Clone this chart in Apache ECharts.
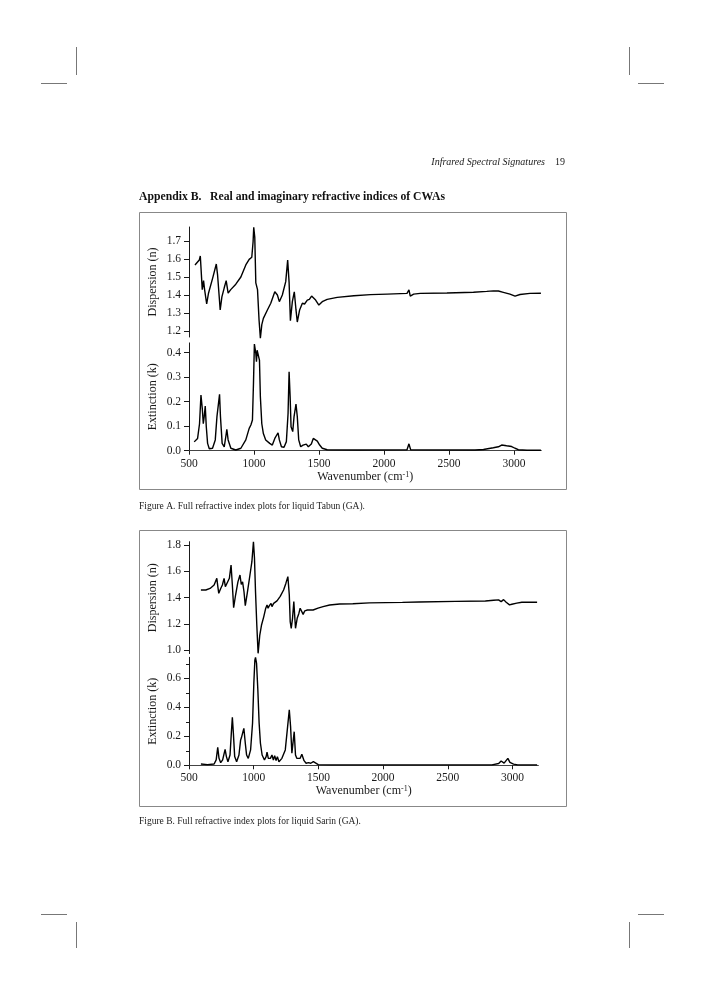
<!DOCTYPE html>
<html><head><meta charset="utf-8">
<script src="https://cdn.jsdelivr.net/npm/echarts@6/dist/echarts.min.js"></script>
<style>html,body{margin:0;padding:0;background:#fff}#c{width:706px;height:1000px}</style>
</head><body><div id="c"></div>
<script>
// ---------- tick labels ----------
const xTicks = [500, 1000, 1500, 2000, 2500, 3000];
const dispATicks = [1.2, 1.3, 1.4, 1.5, 1.6, 1.7];
const extATicks = [0.0, 0.1, 0.2, 0.3, 0.4];
const dispBTicks = [1.0, 1.2, 1.4, 1.6, 1.8];
const extBTicks = [0.0, 0.2, 0.4, 0.6];
const extBMinorTicks = [0.1, 0.3, 0.5, 0.7];

// ---------- Figure A: Tabun ----------
const dispA_w = [546,561,579,587,602,612,620,636,650,682,710,720,727,740,753,771,786,801,821,860,899,937,963,983,993,998,1006,1014,1027,1039,1049,1060,1072,1083,1103,1129,1160,1180,1195,1218,1244,1259,1270,1280,1295,1310,1323,1333,1351,1372,1389,1410,1426,1443,1456,1474,1499,1525,1563,1640,1768,1896,2024,2177,2186,2192,2202,2228,2279,2484,2688,2790,2841,2880,2918,2969,3008,3046,3123,3207];
const dispA_n = [1.567,1.557,1.594,1.617,1.43,1.48,1.43,1.35,1.41,1.494,1.572,1.51,1.52,1.317,1.39,1.44,1.48,1.41,1.43,1.46,1.50,1.567,1.598,1.61,1.696,1.776,1.72,1.467,1.43,1.26,1.16,1.235,1.27,1.26,1.317,1.354,1.418,1.40,1.363,1.40,1.474,1.594,1.47,1.257,1.363,1.418,1.317,1.25,1.317,1.354,1.35,1.372,1.376,1.394,1.387,1.372,1.344,1.363,1.376,1.387,1.396,1.402,1.405,1.409,1.412,1.428,1.394,1.405,1.409,1.411,1.415,1.42,1.423,1.422,1.415,1.405,1.394,1.403,1.409,1.41];

const extA_w = [540,566,581,592,602,610,617,625,633,643,656,681,702,715,722,735,742,755,771,783,791,801,822,860,899,937,963,976,988,996,1003,1014,1019,1024,1034,1042,1049,1060,1072,1090,1103,1121,1141,1160,1175,1185,1195,1211,1231,1249,1262,1270,1278,1285,1298,1308,1323,1333,1344,1359,1377,1392,1402,1418,1441,1456,1469,1487,1505,1525,1563,1800,2177,2192,2205,2700,2765,2841,2880,2905,2943,2982,3008,3033,3100,3207];
const extA_k = [0.036,0.05,0.11,0.227,0.173,0.11,0.139,0.182,0.098,0.03,0.008,0.01,0.044,0.139,0.146,0.23,0.139,0.03,0.016,0.057,0.087,0.044,0.01,0.003,0.01,0.044,0.091,0.105,0.125,0.275,0.435,0.397,0.363,0.41,0.404,0.37,0.22,0.11,0.07,0.044,0.046,0.03,0.023,0.05,0.064,0.073,0.044,0.016,0.014,0.037,0.152,0.322,0.22,0.098,0.078,0.139,0.19,0.139,0.044,0.016,0.023,0.019,0.027,0.016,0.027,0.05,0.044,0.039,0.023,0.01,0.004,0.003,0.004,0.028,0.004,0.003,0.005,0.012,0.016,0.023,0.02,0.017,0.01,0.004,0.002,0.002];

// ---------- Figure B: Sarin ----------
const dispB_w = [592,630,663,694,715,722,730,745,758,771,781,796,812,825,835,845,860,878,894,904,914,925,935,950,971,986,998,1006,1014,1024,1034,1047,1060,1078,1093,1103,1111,1121,1134,1141,1154,1167,1180,1205,1231,1249,1264,1275,1282,1290,1300,1310,1318,1323,1336,1349,1359,1369,1382,1395,1415,1439,1459,1472,1497,1536,1587,1664,1766,1894,2021,2149,2277,2560,2790,2854,2892,2912,2931,2951,2963,2977,2995,3033,3072,3190];
const dispB_n = [1.458,1.458,1.47,1.496,1.547,1.49,1.433,1.47,1.496,1.547,1.483,1.483,1.547,1.648,1.496,1.324,1.42,1.52,1.572,1.50,1.52,1.445,1.339,1.433,1.572,1.673,1.825,1.70,1.445,1.19,0.977,1.116,1.19,1.256,1.32,1.344,1.32,1.339,1.357,1.332,1.357,1.344,1.375,1.41,1.458,1.51,1.56,1.42,1.218,1.167,1.243,1.37,1.243,1.167,1.243,1.28,1.32,1.33,1.273,1.30,1.306,1.306,1.306,1.30,1.32,1.332,1.344,1.352,1.354,1.36,1.362,1.364,1.367,1.372,1.375,1.38,1.383,1.37,1.385,1.365,1.378,1.345,1.35,1.358,1.365,1.365];

const extB_w = [592,643,694,710,722,732,745,760,779,789,801,817,827,835,843,853,868,886,899,906,917,924,935,945,958,976,991,1001,1009,1014,1022,1032,1042,1052,1065,1083,1096,1103,1113,1129,1141,1152,1162,1173,1183,1195,1218,1244,1262,1275,1285,1295,1303,1313,1323,1333,1346,1359,1372,1382,1389,1405,1423,1441,1461,1474,1499,1600,2841,2893,2912,2935,2964,2980,3008,3040,3190];
const extB_k = [0.009,0.005,0.009,0.037,0.124,0.048,0.018,0.037,0.11,0.06,0.025,0.071,0.22,0.331,0.22,0.06,0.025,0.071,0.175,0.193,0.232,0.255,0.152,0.071,0.048,0.106,0.29,0.566,0.726,0.745,0.703,0.52,0.29,0.152,0.071,0.037,0.06,0.09,0.048,0.048,0.071,0.037,0.067,0.032,0.06,0.025,0.048,0.106,0.267,0.382,0.267,0.083,0.071,0.232,0.071,0.048,0.037,0.048,0.076,0.071,0.032,0.014,0.018,0.014,0.025,0.014,0.005,0.003,0.003,0.012,0.03,0.015,0.048,0.02,0.008,0.003,0.003];

// ---------- build ----------
const FONT = 'Liberation Serif';
const INK = '#1a1a1a';
const zip = (a, b) => a.map((x, i) => [x, b[i]]);
const chart = echarts.init(document.getElementById('c'), null, {renderer: 'canvas'});

function yAx(grid, min, max, ticks, name, nameGap) {
  return {
    type: 'value', gridIndex: grid, min: min, max: max, position: 'left',
    name: name, nameLocation: 'middle', nameRotate: 90, nameGap: nameGap,
    nameTextStyle: {fontFamily: FONT, fontSize: 12, color: INK},
    axisLine: {show: true, onZero: false, lineStyle: {color: INK, width: 1}},
    axisTick: {show: true, length: 5, inside: false, customValues: ticks, lineStyle: {color: INK}},
    axisLabel: {show: true, margin: 8, customValues: ticks, fontFamily: FONT, fontSize: 11.5, color: INK,
      formatter: v => Number(v).toFixed(1)},
    splitLine: {show: false}
  };
}
function xAx(grid, max, visible, nameGap) {
  return {
    type: 'value', gridIndex: grid, min: 500, max: max, show: visible,
    name: visible ? 'Wavenumber (cm{s|-1})' : '', nameLocation: 'middle', nameGap: nameGap,
    nameTextStyle: {fontFamily: FONT, fontSize: 12, color: INK,
      rich: {s: {fontFamily: FONT, fontSize: 8, lineHeight: 8, verticalAlign: 'top', color: INK}}},
    axisLine: {show: true, onZero: false, lineStyle: {color: '#444', width: 1}},
    axisTick: {show: true, length: 4, customValues: xTicks, lineStyle: {color: INK}},
    axisLabel: {show: true, margin: 7, customValues: xTicks, fontFamily: FONT, fontSize: 11.5, color: INK,
      formatter: v => String(v)},
    splitLine: {show: false}
  };
}
const lineSeries = (xi, yi, data) => ({
  type: 'line', xAxisIndex: xi, yAxisIndex: yi, data: data, showSymbol: false, symbol: 'none',
  lineStyle: {color: '#000', width: 1.4}, clip: false, animation: false, z: 3
});

const gl = (x1, y1, x2, y2) => ({type: 'line', shape: {x1, y1, x2, y2}, style: {stroke: '#777', lineWidth: 1}, silent: true});
const txt = (x, y, text, font, align, fill) => ({type: 'text', x, y, silent: true,
  style: {text, font, fill: fill || INK, align: align || 'left', verticalAlign: 'middle'}});

const option = {
  backgroundColor: '#fff',
  animation: false,
  grid: [
    {left: 189, top: 227, width: 352.3, height: 110, outerBoundsMode: 'none'},
    {left: 189, top: 342.9, width: 352.3, height: 107.8, outerBoundsMode: 'none'},
    {left: 189, top: 541.7, width: 349.4, height: 111.9, outerBoundsMode: 'none'},
    {left: 189, top: 657.3, width: 349.4, height: 108, outerBoundsMode: 'none'}
  ],
  xAxis: [xAx(0, 3210, false, 0), xAx(1, 3210, true, 19), xAx(2, 3200, false, 0), xAx(3, 3200, true, 20)],
  yAxis: [
    yAx(0, 1.1667, 1.7778, dispATicks, 'Dispersion (n)', 30),
    yAx(1, 0, 0.44, extATicks, 'Extinction (k)', 30),
    yAx(2, 0.975, 1.825, dispBTicks, 'Dispersion (n)', 30),
    yAx(3, 0, 0.745, extBTicks, 'Extinction (k)', 30),
    {type: 'value', gridIndex: 3, min: 0, max: 0.745, position: 'left', axisLine: {show: false},
     axisTick: {show: true, length: 3, customValues: extBMinorTicks, lineStyle: {color: INK}},
     axisLabel: {show: false}, splitLine: {show: false}}
  ],
  series: [
    lineSeries(0, 0, zip(dispA_w, dispA_n)),
    lineSeries(1, 1, zip(extA_w, extA_k)),
    lineSeries(2, 2, zip(dispB_w, dispB_n)),
    lineSeries(3, 3, zip(extB_w, extB_k))
  ],
  graphic: [
    // crop marks
    gl(76.5, 47, 76.5, 75), gl(41, 83.5, 67, 83.5),
    gl(629.5, 47, 629.5, 75), gl(638, 83.5, 664, 83.5),
    gl(41, 914.5, 67, 914.5), gl(76.5, 922, 76.5, 948),
    gl(638, 914.5, 664, 914.5), gl(629.5, 922, 629.5, 948),
    // header
    txt(545, 162, 'Infrared Spectral Signatures', 'italic 10px "Liberation Serif"', 'right'),
    txt(555, 162, '19', '10px "Liberation Serif"', 'left'),
    txt(139, 197, 'Appendix B.   Real and imaginary refractive indices of CWAs', 'bold 11.7px "Liberation Serif"', 'left', '#111'),
    // figure frames
    {type: 'rect', shape: {x: 139.5, y: 212.5, width: 427, height: 277}, style: {fill: 'none', stroke: '#888', lineWidth: 1}, silent: true, z: -1},
    {type: 'rect', shape: {x: 139.5, y: 530.5, width: 427, height: 276}, style: {fill: 'none', stroke: '#888', lineWidth: 1}, silent: true, z: -1},
    // captions
    txt(139, 506, 'Figure A. Full refractive index plots for liquid Tabun (GA).', '9.5px "Liberation Serif"', 'left', '#222'),
    txt(139, 821, 'Figure B. Full refractive index plots for liquid Sarin (GA).', '9.5px "Liberation Serif"', 'left', '#222')
  ]
};
chart.setOption(option);
</script>
</body></html>
